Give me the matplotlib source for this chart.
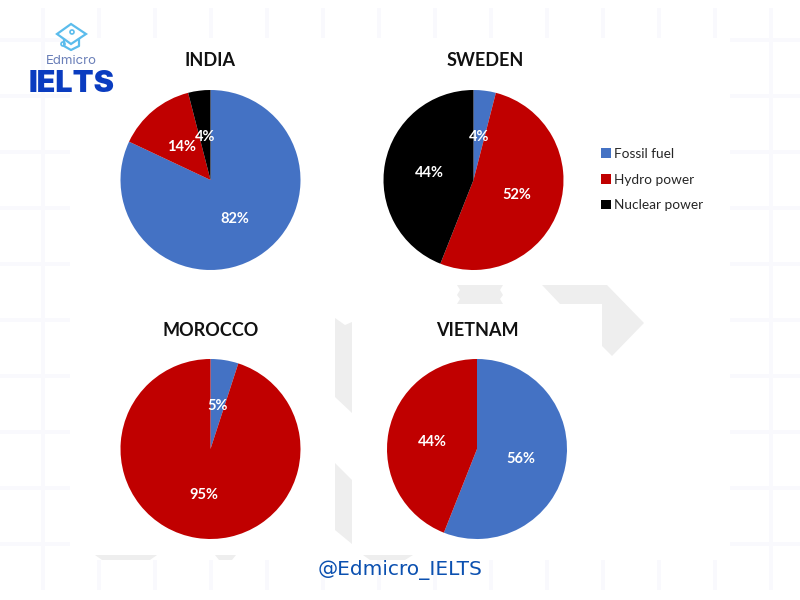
# -*- coding: utf-8 -*-
"""
Electricity sources in four countries
"""
import matplotlib
matplotlib.use('Agg')
matplotlib.rc('font', **{'family': 'Lato', 'size': 10})
import matplotlib.pyplot as plt
from matplotlib.patches import Patch, Polygon, Rectangle, Circle

# DATA
countries = ['INDIA', 'SWEDEN', 'MOROCCO', 'VIETNAM']
sources = ['Fossil fuel', 'Hydro power', 'Nuclear power']
india = [82, 14, 4]
sweden = [4, 52, 44]
morocco = [5, 95, 0]
vietnam = [56, 44, 0]
shares = [india, sweden, morocco, vietnam]

colors = ['#4472c4', '#c00000', '#000000']
centers = [(210.5, 180), (473.5, 180), (210.5, 449), (477, 449)]
title_pos = [(210.5, 61), (485, 61), (210.5, 330), (477, 330)]
radius_px = 90
band = '#f9f9fd'
shape_grey = '#eeeeee'

fig = plt.figure(figsize=(8, 6), dpi=100, facecolor='white')

##############################################################################
# Background decoration, in pixel coordinates
##############################################################################
bg = fig.add_axes([0, 0, 1, 1], zorder=0)
bg.set_xlim(0, 800)
bg.set_ylim(600, 0)
bg.axis('off')

for x in range(43, 800, 56):
    bg.add_patch(Rectangle((x - 2, 8), 4, 582, color=band, lw=0))
for y in range(40, 600, 56):
    bg.add_patch(Rectangle((0, y - 2), 800, 4, color=band, lw=0))
bg.add_patch(Rectangle((70, 38), 660, 522, color='white', lw=0))

grey_shapes = [
    [(542, 285), (607, 285), (644, 323), (612, 356), (602, 346), (602, 304), (560, 304)],
    [(457, 285), (503, 285), (500, 290), (503, 295), (500, 299), (503, 304), (457, 304),
     (460, 299), (457, 295), (460, 290)],
    [(335, 318), (345, 325), (352, 322), (352, 413), (335, 397)],
    [(335, 463), (352, 480), (352, 544), (335, 530)],
    [(363, 555), (413, 555), (405, 560), (370, 560)],
    [(95, 555), (157, 555), (150, 560), (102, 560)],
    [(215, 555), (236, 555), (232, 560), (219, 560)],
]
for pts in grey_shapes:
    bg.add_patch(Polygon(pts, closed=True, color=shape_grey, lw=0))

##############################################################################
# Pies
##############################################################################
def pct_label(p):
    return '{:.0f}%'.format(p) if p > 0 else ''

for name, vals, (cx, cy), (tx, ty) in zip(countries, shares, centers, title_pos):
    ax = fig.add_axes([(cx - radius_px) / 800, 1 - (cy + radius_px) / 600,
                       2 * radius_px / 800, 2 * radius_px / 600], zorder=2)
    wedges, texts, autotexts = ax.pie(vals, colors=colors, startangle=90, counterclock=False,
                                      autopct=pct_label, pctdistance=0.5, radius=1)
    ax.set_xlim(-1, 1)
    ax.set_ylim(-1, 1)
    for t in autotexts:
        t.set_color('white')
        t.set_fontweight('bold')
        t.set_fontsize(10.5)
        t.set_va('center_baseline')
    fig.text(tx / 800, 1 - ty / 600, name, ha='center', va='center', fontsize=13,
             fontweight='bold', color='#111111', zorder=3)

handles = [Patch(facecolor=c, edgecolor='none') for c in colors]
leg = fig.legend(handles, sources, loc='center left', bbox_to_anchor=(589 / 800, 1 - 179.5 / 600),
                 frameon=False, fontsize=9.8, handlelength=0.72, handleheight=0.72,
                 handletextpad=0.25, labelspacing=1.0, labelcolor='#262626')

##############################################################################
# Logo and handle
##############################################################################
top = fig.add_axes([0, 0, 1, 1], zorder=4)
top.set_xlim(0, 800)
top.set_ylim(600, 0)
top.axis('off')
top.patch.set_alpha(0)

logo_blue = '#5bbcec'
top.add_patch(Polygon([(71, 24), (86, 34), (71, 44), (57, 34)], closed=True, fill=False,
                      ec=logo_blue, lw=1.6))
top.plot([64, 64, 71, 79, 79], [40, 46, 50, 46, 40], color=logo_blue, lw=1.6)
top.add_patch(Circle((72, 32), 2, fill=False, ec=logo_blue, lw=1.2))
top.add_patch(Circle((63, 44), 2, fill=False, ec=logo_blue, lw=1.2))

top.text(71, 61.5, 'Edmicro', ha='center', va='center', fontsize=9.5, color='#6a7fb8',
         family='Inter')
top.text(71.5, 84, 'IELTS', ha='center', va='center', fontsize=22, color='#0a3cc0',
         family='Inter', fontweight='black')
top.text(400, 570, '@Edmicro_IELTS', ha='center', va='center', fontsize=14.5,
         color='#0b50b0', family='DejaVu Sans')

plt.savefig('out.png', dpi=100)
